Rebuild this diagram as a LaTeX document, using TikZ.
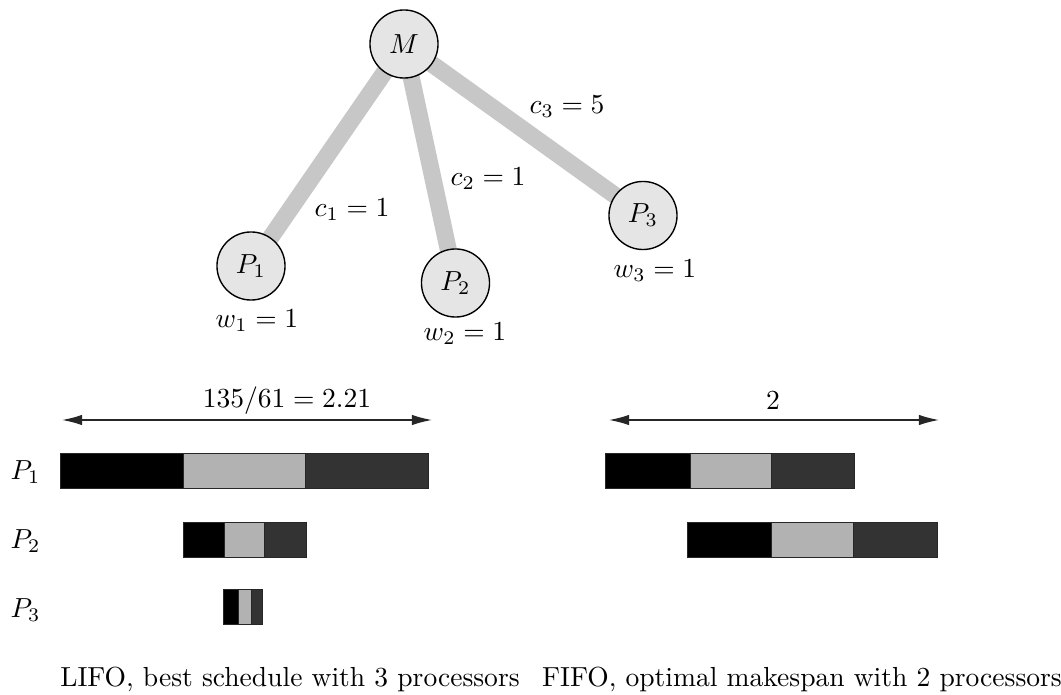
\documentclass[tikz,border=0pt]{standalone}
\usetikzlibrary{arrows.meta,backgrounds}
\begin{document}
\begin{tikzpicture}[x=0.3629pt,y=-0.3629pt,
  proc/.style={circle,draw=black,line width=0.5pt,fill=black!10,minimum size=24.7pt,inner sep=0pt},
  link/.style={line width=6.2pt,draw=black!22},
  lbl/.style={inner sep=0pt},
  spanarrow/.style={line width=0.5pt,draw=black!85,{Latex[length=7.3pt,width=3.8pt]}-{Latex[length=7.3pt,width=3.8pt]}},
  seg/.style={draw=black!85,line width=0.3pt},
  blk/.style={seg,fill=black},
  lgt/.style={seg,fill=black!30},
  drk/.style={seg,fill=black!80},
]
\useasboundingbox (0,0) rectangle (1061,695);

% tree
\node[proc] (M) at (404,44) {$M$};
\node[proc] (P1) at (251,266) {$P_1$};
\node[proc] (P2) at (455.5,283) {$P_2$};
\node[proc] (P3) at (643,215.5) {$P_3$};
\begin{scope}[on background layer]
  \draw[link] (M.center) -- (P1.center);
  \draw[link] (M.center) -- (P2.center);
  \draw[link] (M.center) -- (P3.center);
\end{scope}
\node[lbl] (c1) at (352,210) {$c_1 = 1$};
\node[lbl] (c2) at (488,179) {$c_2 = 1$};
\node[lbl] (c3) at (567,107) {$c_3 = 5$};
\node[lbl] (w1) at (257,321) {$w_1 = 1$};
\node[lbl] (w2) at (465,334) {$w_2 = 1$};
\node[lbl] (w3) at (655,271) {$w_3 = 1$};

% left schedule
\coordinate (la) at (62,420);
\coordinate (lb) at (432,420);
\draw[spanarrow] (la) -- (lb);
\node[lbl] (lt) at (287,401) {$135/61 = 2.21$};
\node[lbl,anchor=west] (r1) at (10,472) {$P_1$};
\node[lbl,anchor=west] (r2) at (10,541) {$P_2$};
\node[lbl,anchor=west] (r3) at (10,610) {$P_3$};

\path[blk] (60,453) rectangle (183,488);
\path[lgt] (183,453) rectangle (305,488);
\path[drk] (305,453) rectangle (428,488);

\path[blk] (183,522) rectangle (224,557);
\path[lgt] (224,522) rectangle (264,557);
\path[drk] (264,522) rectangle (306,557);

\path[blk] (223,589) rectangle (238,624);
\path[lgt] (238,589) rectangle (251,624);
\path[drk] (251,589) rectangle (262,624);

% right schedule
\coordinate (ra) at (609,420);
\coordinate (rb) at (939,420);
\draw[spanarrow] (ra) -- (rb);
\node[lbl] (rt) at (773,401) {$2$};

\path[blk] (605,453) rectangle (690,488);
\path[lgt] (690,453) rectangle (771,488);
\path[drk] (771,453) rectangle (854,488);

\path[blk] (687,522) rectangle (771.5,557);
\path[lgt] (771.5,522) rectangle (853,557);
\path[drk] (853,522) rectangle (937,557);

% captions
\node[lbl] (capl) at (290,679) {LIFO, best schedule with 3 processors};
\node[lbl] (capr) at (802,679) {FIFO, optimal makespan with 2 processors};
\end{tikzpicture}
\end{document}
